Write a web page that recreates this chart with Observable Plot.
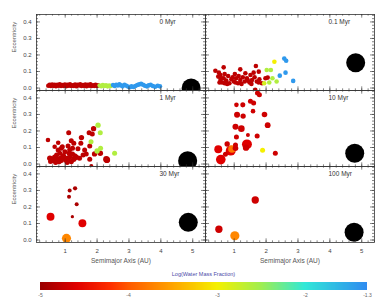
<!DOCTYPE html>
<html><head><meta charset="utf-8">
<script src="https://cdn.jsdelivr.net/npm/d3@7"></script>
<script src="https://cdn.jsdelivr.net/npm/@observablehq/plot@0.6"></script>
<style>
html,body{margin:0;padding:0;background:#fff;}
#chart svg{display:block}
</style></head><body><div id="chart"></div>
<script>
// Panels (snapshots in time)
const panelLabels = ["0 Myr", "0.1 Myr", "1 Myr", "10 Myr", "30 Myr", "100 Myr"];

// Each body: [semimajor axis (AU), eccentricity, log10 water mass fraction, mass (Earth masses)]
const p0 = [
  [0.47,0.014,-4.8,0.015],[0.51,0.020,-4.8,0.015],[0.55,0.012,-4.8,0.015],[0.59,0.021,-4.8,0.015],
  [0.63,0.013,-4.8,0.015],[0.67,0.019,-4.8,0.015],[0.71,0.011,-4.8,0.015],[0.75,0.020,-4.8,0.015],
  [0.79,0.014,-4.8,0.015],[0.83,0.022,-4.8,0.015],[0.87,0.012,-4.8,0.015],[0.91,0.018,-4.8,0.015],
  [0.95,0.013,-4.8,0.015],[0.99,0.021,-4.8,0.015],[1.03,0.011,-4.8,0.015],[1.07,0.019,-4.8,0.015],
  [1.11,0.014,-4.8,0.015],[1.15,0.022,-4.8,0.015],[1.19,0.012,-4.8,0.015],[1.23,0.017,-4.8,0.015],
  [1.27,0.013,-4.8,0.015],[1.31,0.021,-4.8,0.015],[1.35,0.011,-4.8,0.015],[1.39,0.019,-4.8,0.015],
  [1.43,0.015,-4.8,0.015],[1.47,0.022,-4.8,0.015],[1.51,0.012,-4.8,0.015],[1.55,0.018,-4.8,0.015],
  [1.59,0.013,-4.8,0.015],[1.63,0.021,-4.8,0.015],[1.67,0.011,-4.8,0.015],[1.71,0.019,-4.8,0.015],
  [1.75,0.014,-4.8,0.015],[1.79,0.022,-4.8,0.015],[1.83,0.012,-4.8,0.015],[1.87,0.017,-4.8,0.015],
  [1.91,0.013,-4.8,0.015],[1.95,0.020,-4.8,0.015],[1.99,0.012,-4.8,0.015],[2.03,0.016,-4.8,0.015],
  [2.08,0.015,-2.6,0.015],[2.13,0.011,-2.6,0.015],[2.18,0.018,-2.6,0.015],[2.23,0.012,-2.6,0.015],
  [2.28,0.016,-2.6,0.015],[2.33,0.010,-2.6,0.015],[2.38,0.015,-2.6,0.015],[2.43,0.012,-2.6,0.015],
  [2.50,0.018,-1.4,0.015],[2.55,0.012,-1.4,0.015],[2.60,0.020,-1.4,0.015],[2.65,0.015,-1.4,0.015],
  [2.70,0.022,-1.4,0.015],[2.75,0.016,-1.4,0.015],[2.80,0.010,-1.4,0.015],[2.86,0.020,-1.4,0.015],
  [2.92,0.014,-1.4,0.015],[2.98,0.008,-1.4,0.015],[3.03,0.005,-1.4,0.015],[3.08,0.010,-1.4,0.015],
  [3.14,0.006,-1.4,0.015],[3.20,0.012,-1.4,0.015],[3.26,0.018,-1.4,0.015],[3.32,0.022,-1.4,0.015],
  [3.38,0.026,-1.4,0.015],[3.44,0.020,-1.4,0.015],[3.50,0.014,-1.4,0.015],[3.56,0.010,-1.4,0.015],
  [3.62,0.016,-1.4,0.015],[3.68,0.020,-1.4,0.015],[3.75,0.012,-1.4,0.015],[3.82,0.008,-1.4,0.015],
  [3.90,0.014,-1.4,0.015],[3.97,0.010,-1.4,0.015]
];
const p01 = [
  [0.52,0.093,-4.8,0.015],[0.50,0.069,-4.8,0.015],[0.57,0.049,-4.8,0.015],[0.62,0.033,-4.8,0.015],
  [0.67,0.059,-4.8,0.015],[0.75,0.045,-4.8,0.015],[0.81,0.073,-4.8,0.015],[0.85,0.029,-4.8,0.015],
  [0.91,0.053,-4.8,0.015],[0.99,0.039,-4.8,0.015],[1.06,0.059,-4.8,0.015],[1.12,0.029,-4.8,0.015],
  [1.19,0.049,-4.8,0.015],[1.27,0.065,-4.8,0.015],[1.33,0.039,-4.8,0.015],[1.40,0.059,-4.8,0.015],
  [1.48,0.033,-4.8,0.015],[1.56,0.049,-4.8,0.015],[1.64,0.065,-4.8,0.015],[1.71,0.039,-4.8,0.015],
  [1.79,0.053,-4.8,0.015],[1.87,0.029,-4.8,0.015],[1.98,0.059,-4.8,0.015],[0.57,0.079,-4.8,0.015],
  [0.70,0.085,-4.8,0.015],[1.02,0.085,-4.8,0.015],[1.35,0.089,-4.8,0.015],[1.51,0.079,-4.8,0.015],
  [0.41,0.105,-4.8,0.015],[1.61,0.093,-4.8,0.015],[1.66,-0.010,-4.8,0.015],[0.67,0.125,-4.8,0.015],
  [1.19,0.113,-4.8,0.015],[1.68,0.133,-4.8,0.015],[1.77,0.099,-4.8,0.015],[0.60,0.059,-4.8,0.015],
  [0.78,0.025,-4.8,0.015],[0.95,0.065,-4.8,0.015],[1.14,0.073,-4.8,0.015],[1.23,0.025,-4.8,0.015],
  [1.43,0.045,-4.8,0.015],[1.54,0.025,-4.8,0.015],[1.77,0.033,-4.8,0.015],[0.54,0.033,-4.8,0.015],
  [0.70,0.029,-4.8,0.015],[1.04,0.033,-4.8,0.015],[2.05,0.063,-4.8,0.015],
  [2.26,0.159,-3.0,0.015],[1.94,0.029,-2.8,0.015],[2.02,0.109,-2.6,0.015],[2.15,0.109,-2.6,0.015],
  [2.33,0.039,-2.6,0.015],[2.20,0.059,-2.6,0.015],[2.10,0.033,-2.6,0.015],
  [2.57,0.178,-1.4,0.015],[2.63,0.165,-1.4,0.015],[2.61,0.093,-1.4,0.015],[2.43,0.075,-1.4,0.015],
  [2.85,0.043,-1.4,0.015]
];
const p1 = [
  [0.46,0.145,-4.8,0.015],[1.11,0.190,-4.8,0.02],[1.89,0.214,-4.8,0.025],[1.75,0.189,-4.8,0.02],
  [1.85,0.181,-4.8,0.02],[1.51,0.160,-4.8,0.025],[1.19,0.141,-4.8,0.02],[1.27,0.125,-4.8,0.02],
  [0.78,0.129,-4.8,0.015],[0.67,0.105,-4.8,0.015],[0.91,0.105,-4.8,0.02],[1.09,0.109,-4.8,0.02],
  [1.49,0.125,-4.8,0.02],[1.40,0.093,-4.8,0.02],[1.77,0.109,-4.8,0.02],[1.92,0.061,-4.8,0.025],
  [1.66,0.061,-4.8,0.02],[1.77,0.029,-4.8,0.02],[2.29,0.029,-4.8,0.05],[1.82,-0.012,-4.8,0.01],
  [0.52,0.035,-4.8,0.03],[0.60,0.029,-4.8,0.03],[0.67,0.041,-4.8,0.025],[0.75,0.025,-4.8,0.03],
  [0.81,0.015,-4.8,0.025],[0.85,0.035,-4.8,0.02],[0.93,0.049,-4.8,0.025],[1.02,0.025,-4.8,0.025],
  [1.09,0.035,-4.8,0.03],[1.14,0.041,-4.8,0.02],[1.19,0.015,-4.8,0.025],[1.27,0.029,-4.8,0.025],
  [1.35,0.041,-4.8,0.025],[0.54,0.015,-4.8,0.02],[0.62,0.021,-4.8,0.025],[0.70,0.009,-4.8,0.02],
  [0.78,0.029,-4.8,0.025],[0.88,0.021,-4.8,0.02],[0.99,0.035,-4.8,0.025],[1.06,0.009,-4.8,0.02],
  [1.12,0.065,-4.8,0.02],[1.23,0.061,-4.8,0.02],[1.30,0.049,-4.8,0.025],[0.83,0.065,-4.8,0.02],
  [0.73,0.055,-4.8,0.02],[0.99,0.075,-4.8,0.02],[1.14,0.085,-4.8,0.02],[1.23,0.095,-4.8,0.02],
  [0.78,0.085,-4.8,0.02],[0.88,0.095,-4.8,0.02],[0.95,0.049,-4.8,0.02],[1.56,0.055,-4.8,0.02],
  [1.45,0.035,-4.8,0.02],[1.61,0.085,-4.8,0.02],[2.10,0.065,-4.8,0.03],[2.31,0.025,-4.8,0.05],
  [2.03,0.235,-2.6,0.025],[2.10,0.189,-2.6,0.02],[1.81,0.135,-2.6,0.02],[2.11,0.095,-2.6,0.02],
  [2.00,0.079,-2.6,0.025],[2.55,0.065,-2.6,0.02]
];
const p10 = [
  [1.73,0.430,-4.7,0.02],[1.79,0.420,-4.7,0.02],[1.51,0.380,-4.7,0.02],[1.61,0.370,-4.7,0.02],
  [1.07,0.358,-4.7,0.015],[1.27,0.358,-4.7,0.02],[1.59,0.320,-4.7,0.015],[1.09,0.298,-4.7,0.04],
  [1.28,0.290,-4.7,0.025],[1.95,0.300,-4.7,0.03],[2.05,0.235,-4.7,0.035],[1.04,0.225,-4.7,0.04],
  [1.225,0.214,-4.7,0.06],[1.43,0.175,-4.7,0.01],[1.07,0.163,-4.7,0.02],[1.72,0.170,-4.7,0.02],
  [0.78,0.121,-4.7,0.025],[1.04,0.115,-4.7,0.02],[1.40,0.119,-4.6,0.6],[1.37,0.099,-4.7,0.05],
  [1.04,0.095,-4.7,0.03],[0.50,0.089,-4.6,0.15],[0.89,0.081,-4.6,0.6],[0.93,0.091,-3.8,0.12],
  [1.89,0.083,-3.0,0.02],[2.29,0.065,-4.7,0.02],[0.725,0.059,-4.7,0.02],[0.58,0.027,-4.6,0.5]
];
const p30 = [
  [0.54,0.141,-4.6,0.15],[1.14,0.300,-4.9,0.01],[1.31,0.313,-4.9,0.012],[1.12,0.262,-4.9,0.01],
  [1.36,0.216,-4.9,0.01],[1.225,0.141,-4.9,0.006],[1.54,0.101,-4.6,0.15],[1.04,0.010,-3.7,0.35]
];
const p100 = [
  [1.66,0.242,-4.7,0.1],[0.52,0.065,-4.7,0.1],[1.02,0.026,-3.7,0.35]
];

// Jupiter in each panel
const jupiterA = [4.95, 4.81, 4.84, 4.78, 4.86, 4.76];
const jupiterE = [0.0, 0.153, 0.02, 0.065, 0.107, 0.047];
const jupiterMass = 318;

// Tick labels
const xTicks = [1, 2, 3, 4, 5];
const yTicks = [0, 0.1, 0.2, 0.3, 0.4];
const colorTicks = [-5, -4, -3, -2, -1.3];

// ---- build tables ----
const panels = [p0, p01, p1, p10, p30, p100];
const bodies = panels.flatMap((arr, i) => arr.map(([a, e, w, m]) => ({a, e, w, m, col: i % 2, row: Math.floor(i / 2)})));
const jupiters = jupiterA.map((a, i) => ({a, e: jupiterE[i], m: jupiterMass, col: i % 2, row: Math.floor(i / 2)}));
const labels = panelLabels.map((t, i) => ({t, col: i % 2, row: Math.floor(i / 2)}));

// jet-like colour ramp
const stops = [-5, -4.6, -4.2, -4, -3.5, -3, -2.5, -2, -1.3];
const stopColors = ["#9a0000", "#e00000", "#ff3000", "#ff5a00", "#ffa500", "#f5f000", "#a0ee50", "#30e8d8", "#2f8cf0"];
const ramp = d3.scaleLinear().domain(stops).range(stopColors).interpolate(d3.interpolateRgb);
const interp = (t) => ramp(-5 + 3.7 * t);

const W = 388, H = 268, mt = 13, mb = 26, ml = 36, mr = 14;
const fh = (H - mt - mb) / 3, fw = (W - ml - mr) / 2;
const minorX = d3.range(0.2, 5.41, 0.2);
const minorY = d3.range(0, 0.441, 0.02);
const tickStyle = {stroke: "#333", strokeWidth: 0.6};

const chart = Plot.plot({
  width: W, height: H,
  marginTop: mt, marginBottom: mb, marginLeft: ml, marginRight: mr,
  style: {fontFamily: "Liberation Sans, Arial, sans-serif", fontSize: "6px", color: "#444", background: "#fff"},
  fx: {axis: null, padding: 0, domain: [0, 1]},
  fy: {axis: null, padding: 0, domain: [0, 1, 2]},
  x: {domain: [0.1, 5.4]},
  y: {domain: [-0.015, 0.445]},
  r: {type: "log", domain: [0.005, 318], range: [1.5, 9.5]},
  color: {type: "linear", domain: [-5, -1.3], interpolate: interp},
  marks: [
    Plot.dot(bodies, {x: "a", y: "e", r: "m", fill: "w", fx: "col", fy: "row", clip: true}),
    Plot.dot(jupiters, {x: "a", y: "e", r: "m", fill: "black", fx: "col", fy: "row", clip: true}),
    Plot.tickX(xTicks, {x: d => d, insetTop: fh - 4, ...tickStyle}),
    Plot.tickX(xTicks, {x: d => d, insetBottom: fh - 4, ...tickStyle}),
    Plot.tickX(minorX, {x: d => d, insetTop: fh - 2, ...tickStyle}),
    Plot.tickX(minorX, {x: d => d, insetBottom: fh - 2, ...tickStyle}),
    Plot.tickY(yTicks, {y: d => d, insetRight: fw - 4, ...tickStyle}),
    Plot.tickY(yTicks, {y: d => d, insetLeft: fw - 4, ...tickStyle}),
    Plot.tickY(minorY, {y: d => d, insetRight: fw - 2, ...tickStyle}),
    Plot.tickY(minorY, {y: d => d, insetLeft: fw - 2, ...tickStyle}),
    Plot.frame({stroke: "#333", strokeWidth: 0.8}),
    Plot.axisX({ticks: xTicks, tickSize: 0, tickPadding: 6, label: null, tickFormat: d => String(d)}),
    Plot.axisY({ticks: yTicks, tickSize: 0, tickPadding: 5, label: null, tickFormat: ".1f"}),
    Plot.text(labels, {fx: "col", fy: "row", text: "t", frameAnchor: "top-right", dx: -46, dy: 5, textAnchor: "start", fontSize: 6.5, fill: "#333"}),
    Plot.text(["Eccentricity"], {text: d => d, frameAnchor: "left", rotate: -90, dx: -22, facetAnchor: "left", fill: "#555"}),
    Plot.text(["Semimajor Axis (AU)"], {text: d => d, frameAnchor: "bottom", dy: 20, facetAnchor: "bottom", fill: "#555", fontSize: 6.5})
  ]
});
document.getElementById("chart").appendChild(chart);

const legendLabel = "Log(Water Mass Fraction)";
const leg = chart.legend("color", {
  width: W, height: 38, marginLeft: 40, marginRight: 21, marginTop: 14, marginBottom: 16,
  ticks: colorTicks, tickFormat: d => String(d), tickSize: 0, label: legendLabel,
  style: {fontFamily: "Liberation Sans, Arial, sans-serif", fontSize: "5px", color: "#666", background: "#fff"}
});
if (leg) {
  leg.querySelectorAll(".tick line").forEach(l => l.remove());
  const title = [...leg.querySelectorAll("text")].find(t => t.textContent === legendLabel);
  if (title) {
    title.setAttribute("x", (40 + W - 21) / 2);
    title.setAttribute("text-anchor", "middle");
    title.setAttribute("font-weight", "normal");
    title.setAttribute("fill", "#4a4aa8");
    title.setAttribute("font-size", "5.5px");
  }
  document.getElementById("chart").appendChild(leg);
}
</script>
</body></html>
